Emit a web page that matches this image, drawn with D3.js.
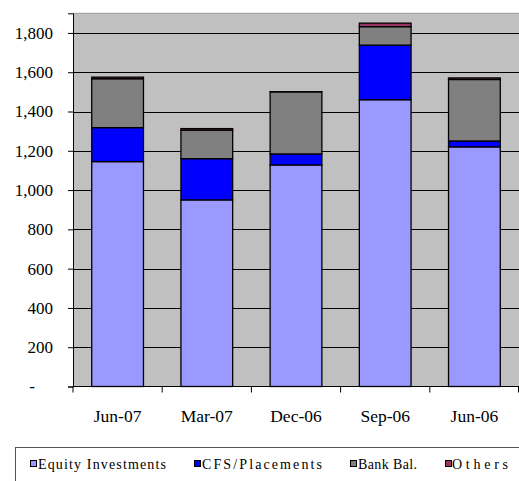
<!DOCTYPE html>
<html>
<head>
<meta charset="utf-8">
<script src="https://cdn.jsdelivr.net/npm/d3@7/dist/d3.min.js"></script>
</head>
<body style="margin:0;padding:0;background:#fff;font-family:'Times New Roman'">
<svg id="chart" width="519" height="481"></svg>
<script>
// Quarter-end labels
const categories = ["Jun-07", "Mar-07", "Dec-06", "Sep-06", "Jun-06"];

// Series values (stacked bottom to top)
const seriesNames = ["Equity Investments", "CFS/Placements", "Bank Bal.", "Others"];
const equityInvestments = [1145, 950, 1128, 1460, 1220];
const cfsPlacements     = [173, 210, 56, 278, 30];
const bankBal           = [249, 145, 316, 94, 313];
const others            = [8, 8, 1, 18, 8];

// Value axis ticks
const yTicks = [0, 200, 400, 600, 800, 1000, 1200, 1400, 1600, 1800];
const yMax = 1900;

const colors = ["#9999FF", "#0000FF", "#808080", "#993366"];
const serifStyle = size => `font-family:'Times New Roman';font-size:${size}px`;

const rows = categories.map((c, i) => ({
  cat: c,
  "Equity Investments": equityInvestments[i],
  "CFS/Placements": cfsPlacements[i],
  "Bank Bal.": bankBal[i],
  "Others": others[i]
}));

const svg = d3.select("#chart");
const plot = { left: 73, right: 519, top: 13.3, bottom: 386.5 };

const x = d3.scaleBand()
  .domain(categories)
  .range([plot.left, plot.right])
  .paddingInner(0.42)
  .paddingOuter(0.21);

const y = d3.scaleLinear()
  .domain([0, yMax])
  .range([plot.bottom, plot.top]);

// Plot background
svg.append("rect")
  .attr("x", plot.left).attr("y", plot.top)
  .attr("width", plot.right - plot.left)
  .attr("height", plot.bottom - plot.top)
  .attr("fill", "#C0C0C0");
svg.append("line")
  .attr("x1", plot.left).attr("x2", plot.right)
  .attr("y1", plot.top).attr("y2", plot.top)
  .attr("stroke", "#9a9a9a").attr("stroke-width", 1);

// Horizontal gridlines
svg.append("g")
  .selectAll("line")
  .data(yTicks.filter(d => d > 0))
  .join("line")
  .attr("x1", plot.left).attr("x2", plot.right)
  .attr("y1", d => Math.round(y(d)) + 0.5)
  .attr("y2", d => Math.round(y(d)) + 0.5)
  .attr("stroke", "#000").attr("stroke-width", 1);

// Stacked bars
const layers = d3.stack().keys(seriesNames)(rows);

svg.append("g")
  .selectAll("g")
  .data(layers)
  .join("g")
  .attr("fill", (d, i) => colors[i])
  .selectAll("rect")
  .data(d => d)
  .join("rect")
  .attr("x", d => x(d.data.cat))
  .attr("width", x.bandwidth())
  .attr("y", d => y(d[1]))
  .attr("height", d => y(d[0]) - y(d[1]))
  .attr("stroke", "#000")
  .attr("stroke-width", 1.3);

// Value axis
const yAxis = d3.axisLeft(y)
  .tickValues(yTicks)
  .tickSize(5)
  .tickPadding(15)
  .tickFormat(d => d === 0 ? "-" : d3.format(",")(d));

const gy = svg.append("g")
  .attr("transform", `translate(${plot.left},0)`)
  .call(yAxis);
gy.attr("font-family", null).attr("font-size", null);
gy.select(".domain").attr("stroke", "#000");
gy.selectAll(".tick line").attr("stroke", "#000");
gy.selectAll(".tick text")
  .attr("style", serifStyle(17))
  .attr("fill", "#000")
  .attr("x", d => d === 0 ? -38 : -20);

// Category axis with ticks between categories
svg.append("line")
  .attr("x1", plot.left).attr("x2", plot.right)
  .attr("y1", plot.bottom).attr("y2", plot.bottom)
  .attr("stroke", "#000").attr("stroke-width", 1.2);

const boundaries = categories.map(c => x(c) - x.step() * x.paddingInner() / 2);
boundaries.push(plot.right - 0.5);
svg.append("g")
  .selectAll("line")
  .data(boundaries)
  .join("line")
  .attr("x1", d => d).attr("x2", d => d)
  .attr("y1", plot.bottom).attr("y2", plot.bottom + 6)
  .attr("stroke", "#000");

svg.append("g")
  .selectAll("text")
  .data(categories)
  .join("text")
  .attr("x", d => x(d) + x.bandwidth() / 2)
  .attr("y", 422)
  .attr("text-anchor", "middle")
  .attr("style", serifStyle(17.5))
  .attr("fill", "#000")
  .text(d => d);

// Legend
svg.append("rect")
  .attr("x", 15.5).attr("y", 447.5)
  .attr("width", 520).attr("height", 60)
  .attr("fill", "#fff")
  .attr("stroke", "#555").attr("stroke-width", 1);

const legendPos = [
  { sx: 30.5, tx: 38, w: 128 },
  { sx: 194.5, tx: 202, w: 120 },
  { sx: 350.5, tx: 358, w: 59 },
  { sx: 445.5, tx: 452, w: 56 }
];

const lg = svg.append("g")
  .selectAll("g")
  .data(seriesNames)
  .join("g");

lg.append("rect")
  .attr("x", (d, i) => legendPos[i].sx)
  .attr("y", 460.5)
  .attr("width", 6).attr("height", 6)
  .attr("fill", (d, i) => colors[i])
  .attr("stroke", "#000").attr("stroke-width", 1);

lg.append("text")
  .attr("x", (d, i) => legendPos[i].tx)
  .attr("y", 469)
  .attr("style", serifStyle(14))
  .attr("fill", "#000")
  .attr("textLength", (d, i) => legendPos[i].w)
  .attr("lengthAdjust", "spacing")
  .text(d => d);
</script>
</body>
</html>
